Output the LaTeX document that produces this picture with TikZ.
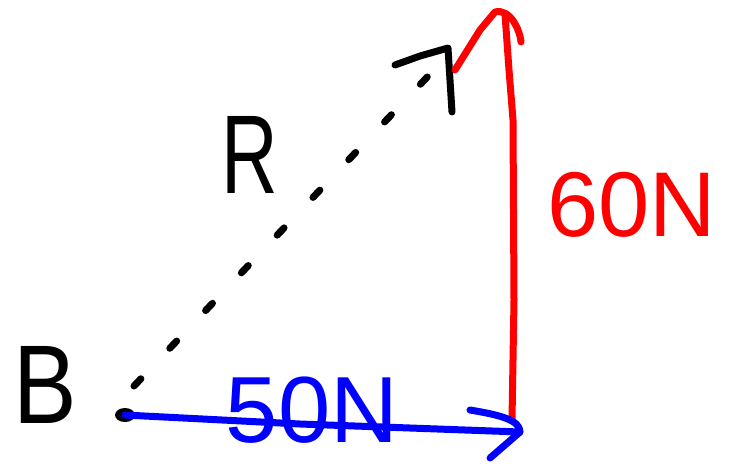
\documentclass[tikz,border=0pt]{standalone}
\usepackage{fontspec}
\setmainfont{Liberation Sans}
\definecolor{penred}{RGB}{255,0,0}
\definecolor{penblue}{RGB}{0,0,255}
\begin{document}
\begin{tikzpicture}[x=1pt,y=-1pt,
  pen/.style={line width=7pt,line cap=round,line join=round},
  lbl/.style={inner sep=0pt,anchor=center},
]
\useasboundingbox (0,0) rectangle (731,464);
% points
\coordinate (o) at (125,415);
\coordinate (bend) at (520,432);
\coordinate (rbot) at (512,420);
\coordinate (rtop) at (505,14);
\coordinate (dstart) at (134,386);
\coordinate (dend) at (432,72);
% origin dot
\fill[black] (o) ellipse (10pt and 7pt);
% dotted R
\draw[pen,black,dash pattern=on 10pt off 42pt] (dstart) -- (dend);
\draw[pen,black] (395,65) -- (420,56) -- (448,48) -- (450,80) -- (452,112);
% red vertical
\draw[pen,penred] (rbot) -- (514,300) -- (513,120) -- (509,70) -- (rtop);
\draw[pen,penred] (455,70) -- (480,30) -- (495,12) .. controls (510,8) and (520,30) .. (521,42);
% blue horizontal
\draw[pen,penblue] (o) -- (300,424) -- (bend);
\draw[pen,penblue] (470,410) .. controls (500,415) and (520,420) .. (bend) -- (490,458);
% labels
\node[lbl] (B) at (45,385) {\fontsize{112}{112}\selectfont\scalebox{0.85}[1]{B}};
\node[lbl] (R) at (250,155) {\fontsize{112}{112}\selectfont\scalebox{0.7}[1]{R}};
\node[lbl,text=penred] (sixty) at (632,205) {\fontsize{92}{92}\selectfont 60N};
\node[lbl,text=penblue] (fifty) at (312,410) {\fontsize{94}{94}\selectfont 50N};
\end{tikzpicture}
\end{document}
